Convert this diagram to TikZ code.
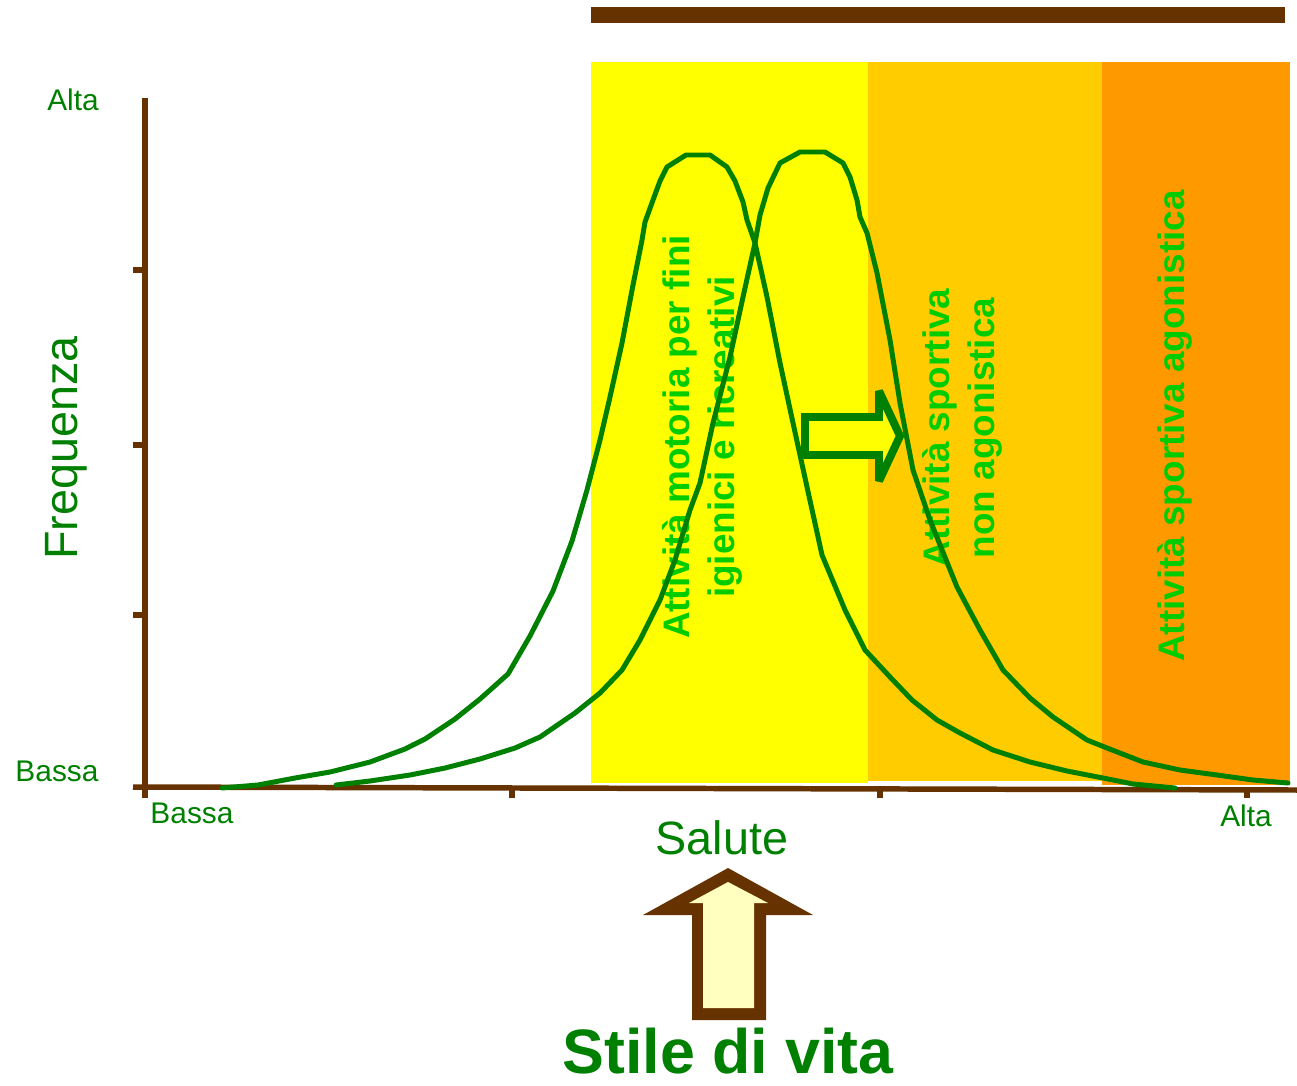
\documentclass[tikz,border=0pt]{standalone}
\usepackage{fontspec}
\setmainfont{Liberation Sans}
\begin{document}
\begin{tikzpicture}[x=0.02cm,y=-0.02cm,
  axis/.style={draw=brownc,line width=5.5*0.567pt},
  curve/.style={draw=curvegreen,line width=5*0.567pt,line join=round,line cap=round},
  axlabel/.style={text=labgreen,inner sep=0pt,font=\fontsize{17}{20}\selectfont},
  bandlabel/.style={text=bandgreen,inner sep=0pt,rotate=90,align=center,font=\fontsize{21}{25.5}\selectfont\bfseries},
  band/.style={draw=none}]
\definecolor{brownc}{HTML}{663300}
\definecolor{curvegreen}{HTML}{008000}
\definecolor{labgreen}{HTML}{008000}
\definecolor{bandgreen}{HTML}{00CC00}
\definecolor{bandyellow}{HTML}{FFFF00}
\definecolor{bandgold}{HTML}{FFCC00}
\definecolor{bandorange}{HTML}{FF9900}
\definecolor{lightyel}{HTML}{FFFFC0}
\useasboundingbox (0,0) rectangle (1297,1085);
% top bar
\fill[brownc] (591,7) rectangle (1285,23);
% bands
\fill[bandyellow] (591,62) rectangle (868,783);
\fill[bandgold] (868,62) rectangle (1102,781);
\fill[bandorange] (1102,62) rectangle (1290,785);
% axes
\coordinate (ytop) at (145,98);
\coordinate (ybot) at (145,798);
\coordinate (xl) at (133,787);
\coordinate (xr) at (1297,790);
\draw[axis] (ytop) -- (ybot);
\draw[axis] (xl) -- (xr);
\foreach \yy in {270,445,615} \draw[axis] (133,\yy) -- (145,\yy);
\draw[axis] (512,788) -- (512,798);
\draw[axis] (880,789) -- (880,798);
\draw[axis] (1247,790) -- (1247,798);
% axis labels
\node[axlabel] (alta1) at (73,100) {Alta};
\node[axlabel] (bassa1) at (57,771) {Bassa};
\node[axlabel] (bassa2) at (192,813) {Bassa};
\node[axlabel] (alta2) at (1246,816) {Alta};
\node[text=labgreen,inner sep=0pt,rotate=90,font=\fontsize{26.6}{30}\selectfont] (freq) at (66,448) {Frequenza};
\node[text=labgreen,inner sep=0pt,font=\fontsize{26.6}{30}\selectfont] (salute) at (722,838) {Salute};
\node[text=labgreen,inner sep=0pt,font=\fontsize{35.7}{40}\selectfont\bfseries] (stile) at (728,1051) {Stile di vita};
% band labels
\node[bandlabel] (lab1) at (702,437) {Attività motoria per fini\\igienici e ricreativi};
\node[bandlabel] (lab2) at (962,428) {Attività sportiva\\non agonistica};
\node[bandlabel] (lab3) at (1175,426) {Attività sportiva agonistica};
% curves
\draw[curve] plot coordinates {(222,788) (258,785) (295,778) (330,772) (370,762) (405,749) (425,739) (455,719) (480,699) (508,674) (530,636) (553,591) (572,541) (587,490) (600,440) (610,397) (622,343) (633,285) (642,240) (645,222) (653,200) (660,181) (667,167) (686,155) (710,155) (727,167) (735,181) (743,202) (747,220) (755,243) (767,297) (780,363) (793,423) (807,487) (822,555) (845,610) (865,650) (890,677) (912,700) (937,720) (960,733) (993,750) (1030,762) (1067,771) (1103,778) (1133,784) (1175,788)};
\draw[curve] plot coordinates {(336,785) (370,781) (410,775) (445,768) (480,759) (515,748) (540,737) (575,713) (600,693) (622,670) (640,640) (660,600) (675,560) (690,510) (700,483) (713,423) (730,357) (743,297) (755,243) (760,215) (768,188) (780,163) (800,152) (825,152) (843,163) (850,177) (857,200) (860,217) (867,233) (877,273) (890,340) (900,403) (913,470) (930,520) (957,587) (980,630) (1003,670) (1030,698) (1053,717) (1087,740) (1107,748) (1143,762) (1180,770) (1217,775) (1253,780) (1288,783)};
% small arrow
\draw[draw=curvegreen,fill=bandyellow,line width=8*0.567pt,miter limit=3] (805,417) -- (879,417) -- (879,391) -- (900,436) -- (879,481) -- (879,455) -- (805,455) -- cycle;
% big arrow
\fill[brownc] (728,868) -- (813,915) -- (766,915) -- (766,1020) -- (692,1020) -- (692,915) -- (643,915) -- cycle;
\fill[lightyel] (728,882) -- (768,903) -- (754,903) -- (754,1008) -- (703,1008) -- (703,903) -- (689,903) -- cycle;
\end{tikzpicture}
\end{document}
